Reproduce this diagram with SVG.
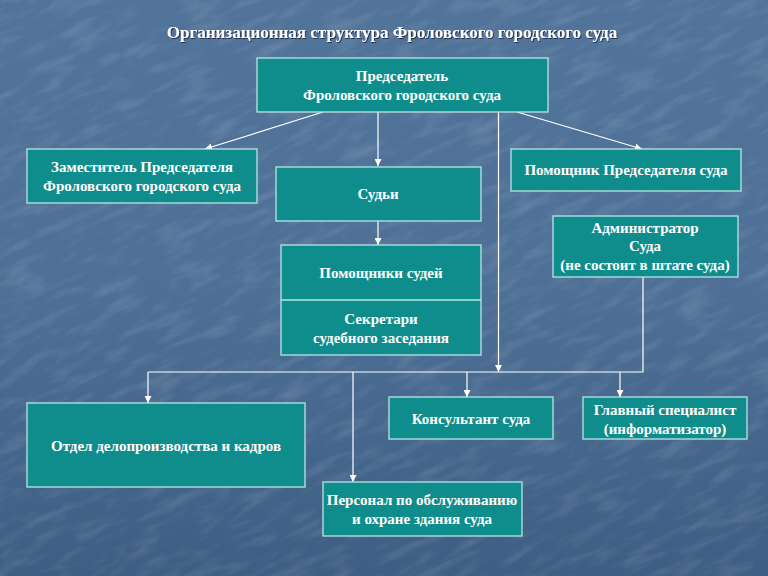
<svg xmlns="http://www.w3.org/2000/svg" width="768" height="576" viewBox="0 0 768 576">
<defs>
<linearGradient id="bg" x1="0" y1="0" x2="0" y2="1">
<stop offset="0" stop-color="#52749a"/>
<stop offset="0.5" stop-color="#4e7096"/>
<stop offset="1" stop-color="#3e5e83"/>
</linearGradient>
<filter id="tex" x="0" y="0" width="100%" height="100%">
<feTurbulence type="fractalNoise" baseFrequency="0.025 0.1" numOctaves="3" seed="4" result="n"/>
<feColorMatrix in="n" type="matrix" values="0 0 0 0 1  0 0 0 0 1  0 0 0 0 1  0 0 0 1.2 -0.55" result="m"/>
<feComposite in="m" in2="SourceGraphic" operator="in"/>
</filter>
<filter id="sh" x="-5%" y="-30%" width="110%" height="160%">
<feDropShadow dx="1" dy="1" stdDeviation="0.6" flood-color="#1a2a40" flood-opacity="0.9"/>
</filter>
<marker id="ah" viewBox="0 0 10 10" refX="10" refY="5" markerWidth="7" markerHeight="7" markerUnits="userSpaceOnUse" orient="auto">
<path d="M0,0 L10,5 L0,10 z" fill="#ffffff"/>
</marker>
<style>
.box{fill:#0f8d8c;stroke:#b9e4e6;stroke-width:1.3}
.t{font-family:"Liberation Serif","Times New Roman",serif;font-weight:bold;font-size:15px;fill:#ffffff;text-anchor:middle}
.ln{stroke:#ffffff;stroke-width:1.2;fill:none}
.ar{stroke:#ffffff;stroke-width:1.2;fill:none;marker-end:url(#ah)}
</style>
</defs>
<rect width="768" height="576" fill="url(#bg)"/>
<g transform="rotate(-25 384 288)">
<rect x="-300" y="-300" width="1368" height="1176" fill="#000" filter="url(#tex)" opacity="0.22"/>
</g>

<text x="392" y="38" class="t" style="font-size:17px" filter="url(#sh)">Организационная структура Фроловского городского суда</text>

<g id="connectors">
<line class="ar" x1="323" y1="112" x2="205" y2="149"/>
<line class="ar" x1="378" y1="112" x2="378" y2="166"/>
<line class="ar" x1="517" y1="112" x2="642" y2="149"/>
<line class="ar" x1="378" y1="221" x2="378" y2="245"/>
<line class="ar" x1="498.5" y1="112" x2="498.5" y2="372"/>
<polyline class="ln" points="643,277 643,372 148,372"/>
<line class="ar" x1="148" y1="372" x2="148" y2="403"/>
<line class="ar" x1="353" y1="372" x2="353" y2="482"/>
<line class="ar" x1="467" y1="372" x2="467" y2="397"/>
<line class="ar" x1="620" y1="372" x2="620" y2="397"/>
</g>

<g id="chairman">
<rect class="box" x="257" y="58" width="291" height="54"/>
<text class="t" x="402" y="81">Председатель</text>
<text class="t" x="402" y="100">Фроловского городского суда</text>
</g>
<g id="deputy">
<rect class="box" x="27" y="149" width="230" height="54"/>
<text class="t" x="142" y="172">Заместитель Председателя</text>
<text class="t" x="142" y="191">Фроловского городского суда</text>
</g>
<g id="judges">
<rect class="box" x="276" y="167" width="205" height="54"/>
<text class="t" x="378" y="199">Судьи</text>
</g>
<g id="assistant-chairman">
<rect class="box" x="511" y="149" width="230" height="42"/>
<text class="t" x="626" y="175">Помощник Председателя суда</text>
</g>
<g id="administrator">
<rect class="box" x="553" y="216" width="185" height="61"/>
<text class="t" x="645" y="233">Администратор</text>
<text class="t" x="645" y="251">Суда</text>
<text class="t" x="645" y="270">(не состоит в штате суда)</text>
</g>
<g id="judges-assistants">
<rect class="box" x="281" y="245" width="200" height="110"/>
<line x1="281" y1="300" x2="481" y2="300" stroke="#b9e4e6" stroke-width="1.3"/>
<text class="t" x="381" y="278">Помощники судей</text>
<text class="t" x="381" y="324">Секретари</text>
<text class="t" x="381" y="343">судебного заседания</text>
</g>
<g id="records-dept">
<rect class="box" x="27" y="403" width="278" height="84"/>
<text class="t" x="166" y="451">Отдел делопроизводства и кадров</text>
</g>
<g id="consultant">
<rect class="box" x="389" y="397" width="164" height="42"/>
<text class="t" x="471" y="424">Консультант суда</text>
</g>
<g id="chief-specialist">
<rect class="box" x="583" y="397" width="164" height="42"/>
<text class="t" x="665" y="415">Главный специалист</text>
<text class="t" x="665" y="434">(информатизатор)</text>
</g>
<g id="staff">
<rect class="box" x="323" y="482" width="199" height="54"/>
<text class="t" x="422" y="505">Персонал по обслуживанию</text>
<text class="t" x="422" y="524">и охране здания суда</text>
</g>
</svg>
